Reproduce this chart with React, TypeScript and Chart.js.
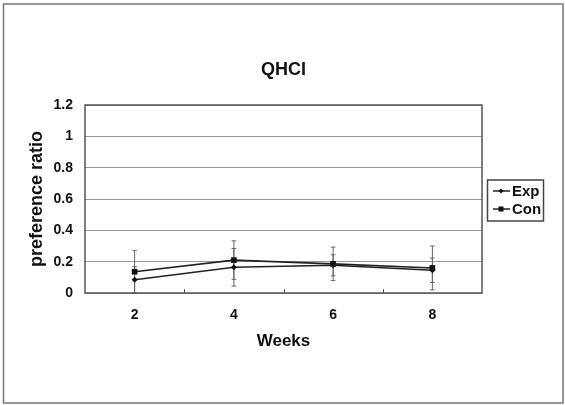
import React, { useEffect, useRef } from "react";
import { Chart, registerables } from "chart.js";

Chart.register(...registerables);

const weeks = ["2", "4", "6", "8"];
const expValues = [0.085, 0.164, 0.177, 0.145];
const expErrors = [0.083, 0.12, 0.067, 0.078];
const conValues = [0.136, 0.21, 0.186, 0.16];
const conErrors = [0.136, 0.123, 0.107, 0.14];
const seriesNames = ["Exp", "Con"];
const chartTitle = "QHCI";
const xTitle = "Weeks";
const yTitle = "preference ratio";

const FONT = "'Liberation Sans', Arial, sans-serif";

const errorBarPlugin = {
  id: "errorBars",
  beforeDatasetsDraw(chart: any) {
    const { ctx, scales } = chart;
    const x = scales.x;
    const y = scales.y;
    const all = [expErrors, conErrors];
    ctx.save();
    ctx.strokeStyle = "#666";
    ctx.lineWidth = 1;
    chart.data.datasets.forEach((ds: any, di: number) => {
      ds.data.forEach((v: number, i: number) => {
        const e = all[di][i];
        const px = x.getPixelForValue(i);
        const top = y.getPixelForValue(v + e);
        const bot = y.getPixelForValue(Math.max(0, v - e));
        ctx.beginPath();
        ctx.moveTo(px, top);
        ctx.lineTo(px, bot);
        ctx.moveTo(px - 2.3, top);
        ctx.lineTo(px + 2.3, top);
        ctx.moveTo(px - 2.3, bot);
        ctx.lineTo(px + 2.3, bot);
        ctx.stroke();
      });
    });
    ctx.restore();
  },
};

const decorPlugin = {
  id: "decor",
  beforeDraw(chart: any) {
    const { ctx, width, height } = chart;
    ctx.save();
    ctx.fillStyle = "#fff";
    ctx.fillRect(0, 0, width, height);
    ctx.restore();
  },
  afterDraw(chart: any) {
    const { ctx, chartArea, scales } = chart;
    const { left, right, top, bottom } = chartArea;
    ctx.save();
    // plot frame
    ctx.strokeStyle = "#555";
    ctx.lineWidth = 1.5;
    ctx.strokeRect(left, top, right - left, bottom - top);
    // inner category tick marks
    const x = scales.x;
    const step = x.getPixelForValue(1) - x.getPixelForValue(0);
    ctx.lineWidth = 1;
    for (let i = 1; i < weeks.length; i++) {
      const px = Math.round(x.getPixelForValue(i) - step / 2) + 0.5;
      ctx.beginPath();
      ctx.moveTo(px, bottom);
      ctx.lineTo(px, bottom - 4);
      ctx.stroke();
    }
    // outer border
    ctx.strokeStyle = "#777";
    ctx.lineWidth = 1.5;
    ctx.strokeRect(3.5, 4, 559.5, 399);
    // titles
    ctx.fillStyle = "#111";
    ctx.textAlign = "center";
    ctx.textBaseline = "middle";
    ctx.font = `bold 18px ${FONT}`;
    ctx.fillText(chartTitle, (left + right) / 2, 70);
    ctx.font = `bold 17px ${FONT}`;
    ctx.fillText(xTitle, (left + right) / 2, 341);
    ctx.save();
    ctx.translate(37, (top + bottom) / 2);
    ctx.rotate(-Math.PI / 2);
    ctx.font = `bold 18px ${FONT}`;
    ctx.fillText(yTitle, 0, 0);
    ctx.restore();
    // legend
    const lx = 487.5, ly = 180, lw = 56, lh = 41;
    ctx.fillStyle = "#fff";
    ctx.fillRect(lx, ly, lw, lh);
    ctx.strokeStyle = "#444";
    ctx.lineWidth = 1.5;
    ctx.strokeRect(lx, ly, lw, lh);
    ctx.font = `bold 15px ${FONT}`;
    ctx.textAlign = "left";
    const rows = [191, 209];
    seriesNames.forEach((name, i) => {
      const yy = rows[i];
      ctx.strokeStyle = "#222";
      ctx.lineWidth = 1.5;
      ctx.beginPath();
      ctx.moveTo(493, yy);
      ctx.lineTo(510, yy);
      ctx.stroke();
      ctx.fillStyle = "#111";
      if (i === 0) {
        ctx.beginPath();
        ctx.moveTo(501, yy - 2.5);
        ctx.lineTo(503.5, yy);
        ctx.lineTo(501, yy + 2.5);
        ctx.lineTo(498.5, yy);
        ctx.closePath();
        ctx.fill();
      } else {
        ctx.fillRect(498.5, yy - 2.5, 5, 5);
      }
      ctx.fillText(name, 512, yy + 1);
    });
    ctx.restore();
  },
};

export default function App() {
  const ref = useRef<HTMLCanvasElement | null>(null);
  useEffect(() => {
    const prevMargin = document.body.style.margin;
    document.body.style.margin = "0";
    const canvas = ref.current!;
    const chart = new Chart(canvas, {
      type: "line",
      data: {
        labels: weeks,
        datasets: [
          {
            label: seriesNames[0],
            data: expValues,
            borderColor: "#222",
            backgroundColor: "#111",
            borderWidth: 1.6,
            pointStyle: "rectRot",
            pointRadius: 3,
            pointBorderWidth: 0,
            tension: 0,
          },
          {
            label: seriesNames[1],
            data: conValues,
            borderColor: "#222",
            backgroundColor: "#111",
            borderWidth: 1.6,
            pointStyle: "rect",
            pointRadius: 4,
            pointBorderWidth: 0,
            tension: 0,
          },
        ],
      },
      options: {
        responsive: false,
        animation: false,
        layout: { padding: { top: 105, right: 83, bottom: 0, left: 0 } },
        plugins: {
          legend: { display: false },
          title: { display: false },
          tooltip: { enabled: false },
        },
        scales: {
          x: {
            type: "category",
            offset: true,
            grid: { display: false, drawTicks: false },
            border: { display: false },
            ticks: {
              padding: 14,
              color: "#111",
              font: { family: FONT, size: 14, weight: "bold" },
            },
            afterFit: (s: any) => {
              s.height = 112;
            },
          },
          y: {
            min: 0,
            max: 1.2,
            grid: { color: "#999", lineWidth: 1, drawTicks: false },
            border: { display: false },
            ticks: {
              stepSize: 0.2,
              padding: 12,
              color: "#111",
              font: { family: FONT, size: 14, weight: "bold" },
              callback: (v: any) => String(Number(Number(v).toFixed(1))),
            },
            afterFit: (s: any) => {
              s.width = 85;
            },
          },
        },
      },
      plugins: [errorBarPlugin, decorPlugin],
    });
    return () => {
      chart.destroy();
      document.body.style.margin = prevMargin;
    };
  }, []);
  return <canvas ref={ref} width={565} height={405} style={{ display: "block" }} />;
}
